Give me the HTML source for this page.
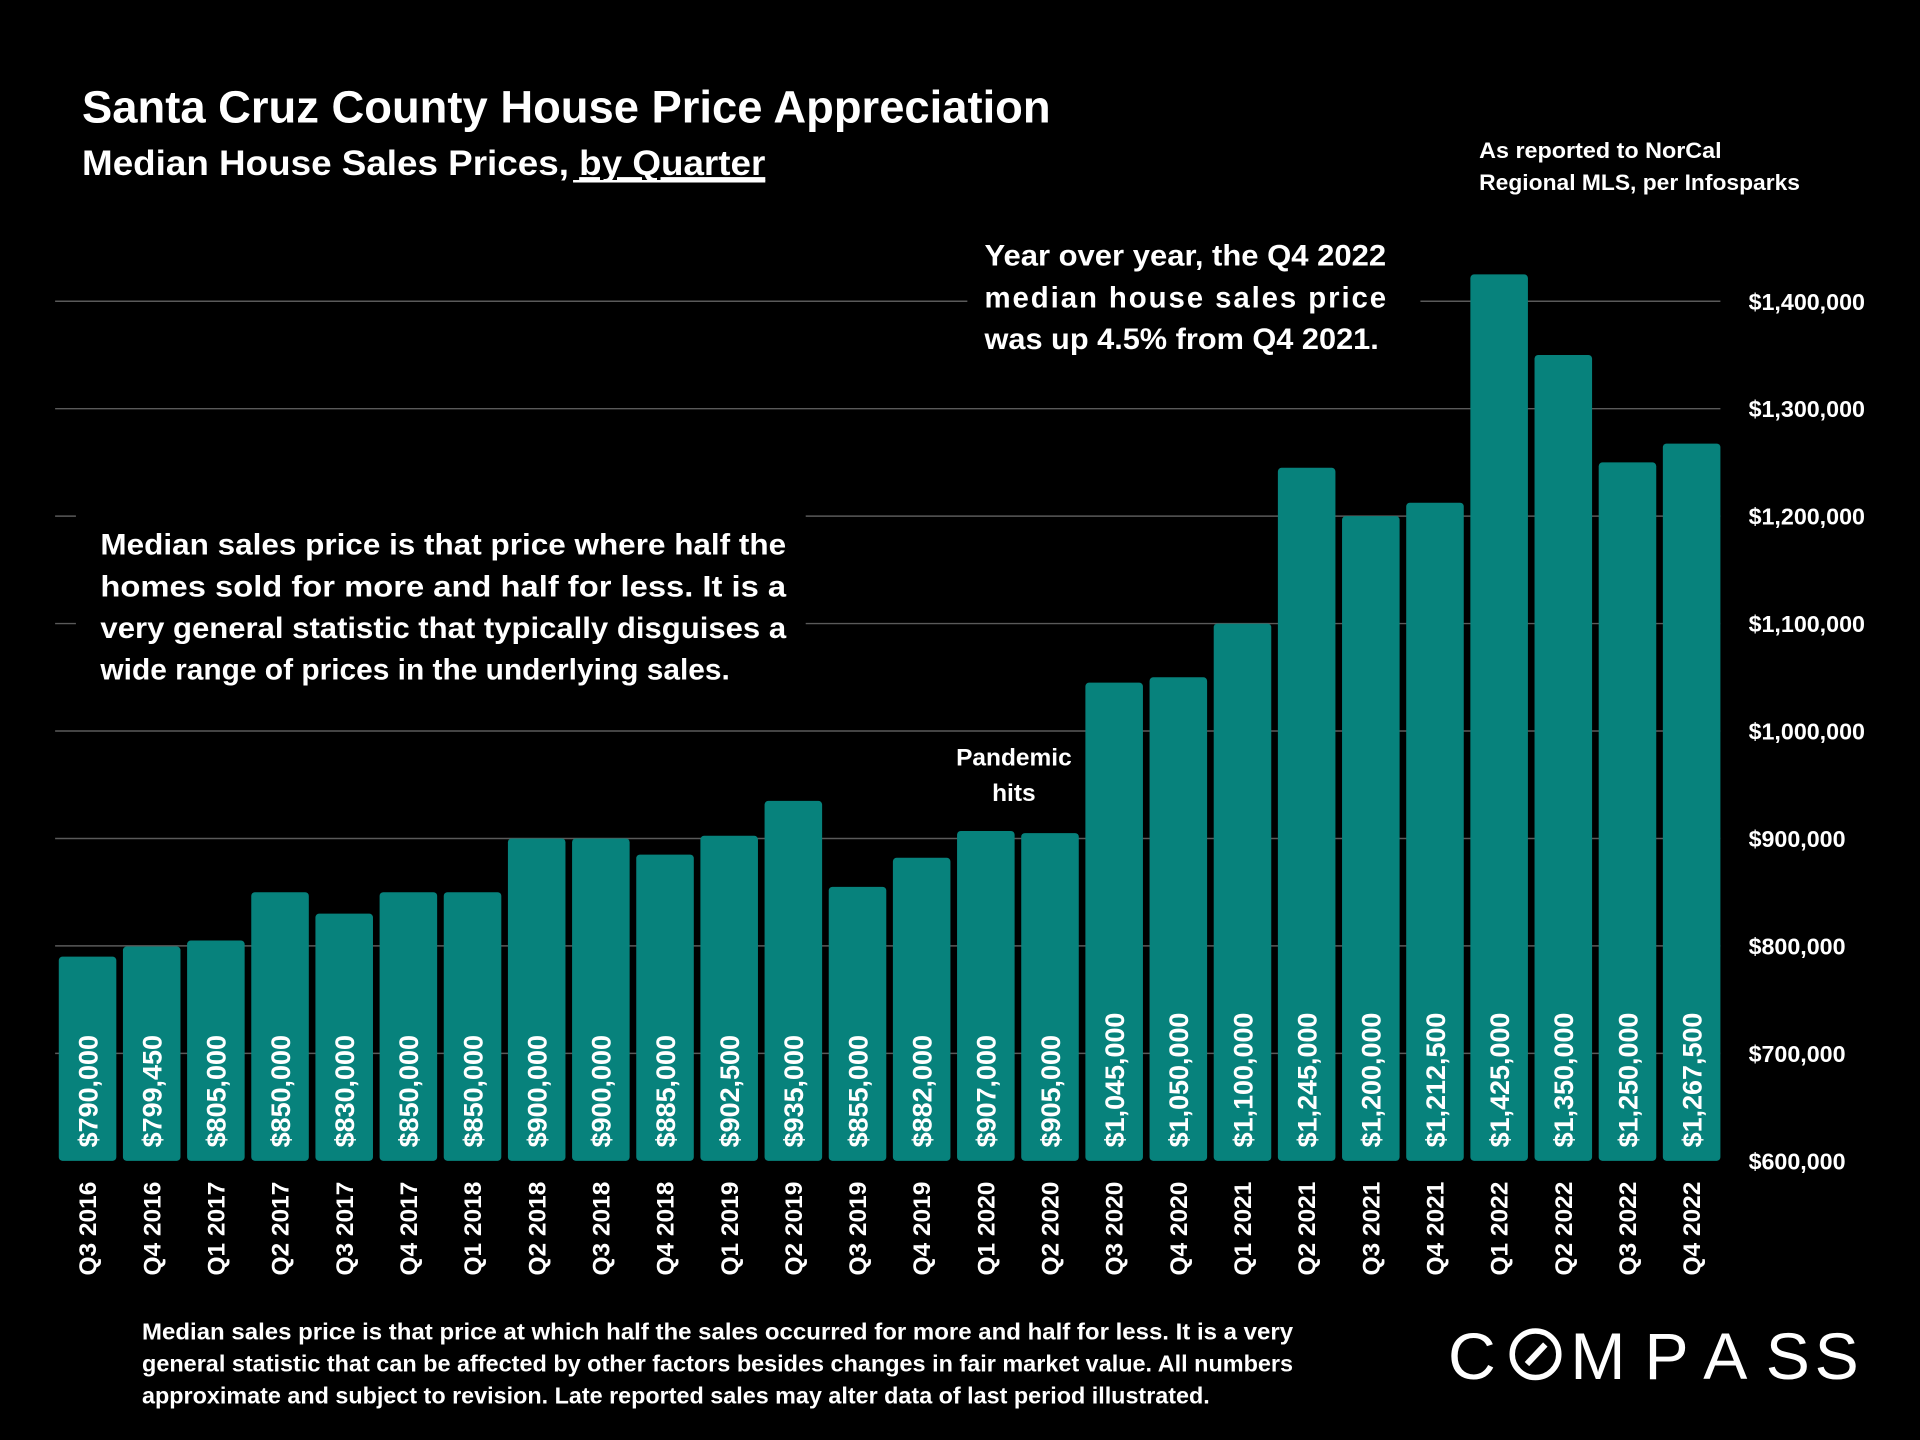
<!DOCTYPE html>
<html><head><meta charset="utf-8"><style>
html,body{margin:0;padding:0;background:#000;}
svg{display:block;font-family:"Liberation Sans",sans-serif;}
</style></head><body>
<svg id="chart" width="1920" height="1440" viewBox="0 0 1568 1176" xmlns="http://www.w3.org/2000/svg">
<rect width="1568" height="1176" fill="#000"/>
<text x="67" y="100" fill="#fff" font-size="37" font-weight="bold" textLength="791" lengthAdjust="spacingAndGlyphs">Santa Cruz County House Price Appreciation</text>
<text x="67" y="143" fill="#fff" font-size="29" font-weight="bold" textLength="558" lengthAdjust="spacingAndGlyphs">Median House Sales Prices, <tspan text-decoration="underline">by Quarter</tspan></text>
<line x1="468" y1="148" x2="625" y2="148" stroke="#fff" stroke-width="2"/>
<text x="1208" y="129" fill="#fff" font-size="18" font-weight="bold"><tspan x="1208" textLength="198" lengthAdjust="spacingAndGlyphs">As reported to NorCal</tspan><tspan x="1208" dy="26" textLength="262" lengthAdjust="spacingAndGlyphs">Regional MLS, per Infosparks</tspan></text>
<g id="grid"></g>
<g id="bars"></g>
<g id="ylab"></g>
<g id="xlab"></g>
<rect x="790" y="188" width="370" height="110" fill="#000"/>
<g fill="#fff" font-size="24" font-weight="bold">
<text x="804" y="217" textLength="328" lengthAdjust="spacingAndGlyphs">Year over year, the Q4 2022</text>
<text x="804" y="251" textLength="328" lengthAdjust="spacing">median house sales price</text>
<text x="804" y="285" textLength="322" lengthAdjust="spacingAndGlyphs">was up 4.5% from Q4 2021.</text>
</g>
<rect x="62" y="420" width="596" height="150" fill="#000"/>
<g fill="#fff" font-size="24" font-weight="bold">
<text x="82" y="453" textLength="560" lengthAdjust="spacingAndGlyphs">Median sales price is that price where half the</text>
<text x="82" y="487" textLength="560" lengthAdjust="spacingAndGlyphs">homes sold for more and half for less. It is a</text>
<text x="82" y="521" textLength="560" lengthAdjust="spacingAndGlyphs">very general statistic that typically disguises a</text>
<text x="82" y="555" textLength="514" lengthAdjust="spacingAndGlyphs">wide range of prices in the underlying sales.</text>
</g>
<g fill="#fff" font-size="20" font-weight="bold" text-anchor="middle">
<text x="828" y="625">Pandemic</text><text x="828" y="654">hits</text>
</g>
<g fill="#fff" font-size="18.5" font-weight="bold">
<text x="116" y="1094" textLength="940" lengthAdjust="spacingAndGlyphs">Median sales price is that price at which half the sales occurred for more and half for less. It is a very</text>
<text x="116" y="1120" textLength="940" lengthAdjust="spacingAndGlyphs">general statistic that can be affected by other factors besides changes in fair market value. All numbers</text>
<text x="116" y="1146" textLength="872" lengthAdjust="spacingAndGlyphs">approximate and subject to revision. Late reported sales may alter data of last period illustrated.</text>
</g>
<g fill="#fff" font-size="54" text-anchor="middle">
<text x="1202" y="1126">C</text>
<text x="1305" y="1126">M</text>
<text x="1361" y="1126">P</text>
<text x="1409" y="1126">A</text>
<text x="1460" y="1126">S</text>
<text x="1500" y="1126">S</text>
<circle cx="1254" cy="1106" r="19" fill="none" stroke="#fff" stroke-width="4.5"/>
<line x1="1247" y1="1114" x2="1262" y2="1098" stroke="#fff" stroke-width="5"/>
</g>
</svg>
<script>
const categories=["Q3 2016","Q4 2016","Q1 2017","Q2 2017","Q3 2017","Q4 2017","Q1 2018","Q2 2018","Q3 2018","Q4 2018","Q1 2019","Q2 2019","Q3 2019","Q4 2019","Q1 2020","Q2 2020","Q3 2020","Q4 2020","Q1 2021","Q2 2021","Q3 2021","Q4 2021","Q1 2022","Q2 2022","Q3 2022","Q4 2022"];
const values=[790000,799450,805000,850000,830000,850000,850000,900000,900000,885000,902500,935000,855000,882000,907000,905000,1045000,1050000,1100000,1245000,1200000,1212500,1425000,1350000,1250000,1267500];
const yTicks=[600000,700000,800000,900000,1000000,1100000,1200000,1300000,1400000];
const NS="http://www.w3.org/2000/svg";
const y=v=>948-(v-600000)*(702/800000);
const x=i=>48+i*52.4;
const bw=47;
const fmt=v=>"$"+v.toLocaleString("en-US");
const grid=document.getElementById("grid"),bars=document.getElementById("bars"),yl=document.getElementById("ylab"),xl=document.getElementById("xlab");
yTicks.forEach(t=>{
 if(t>600000){const l=document.createElementNS(NS,"line");
 
 
 l.setAttribute("x1",45);l.setAttribute("x2",1405);l.setAttribute("y1",y(t));l.setAttribute("y2",y(t));
 l.setAttribute("stroke","#5a5a5a");l.setAttribute("stroke-width","1.2");grid.appendChild(l);}
 const tx=document.createElementNS(NS,"text");
 
 
 tx.setAttribute("x",1428);tx.setAttribute("y",y(t)+7);tx.setAttribute("fill","#fff");
 tx.setAttribute("font-size","19");tx.setAttribute("font-weight","bold");tx.textContent=fmt(t);yl.appendChild(tx);
});
values.forEach((v,i)=>{
 const r=document.createElementNS(NS,"rect");
 
 
 r.setAttribute("x",x(i));r.setAttribute("y",y(v));r.setAttribute("width",bw);r.setAttribute("height",948-y(v));
 r.setAttribute("rx",3);r.setAttribute("fill","#07827c");bars.appendChild(r);
 const cx=x(i)+bw/2;
 const t=document.createElementNS(NS,"text");
 
 
 t.setAttribute("transform",`translate(${cx+8},937) rotate(-90)`);t.setAttribute("fill","#fff");
 t.setAttribute("font-size","22");t.setAttribute("font-weight","bold");t.textContent=fmt(v);bars.appendChild(t);
 const c=document.createElementNS(NS,"text");
 
 
 c.setAttribute("transform",`translate(${cx+7},965) rotate(-90)`);c.setAttribute("text-anchor","end");c.setAttribute("fill","#fff");
 c.setAttribute("font-size","20");c.setAttribute("font-weight","bold");c.textContent=categories[i];xl.appendChild(c);
});
</script>
</body></html>
